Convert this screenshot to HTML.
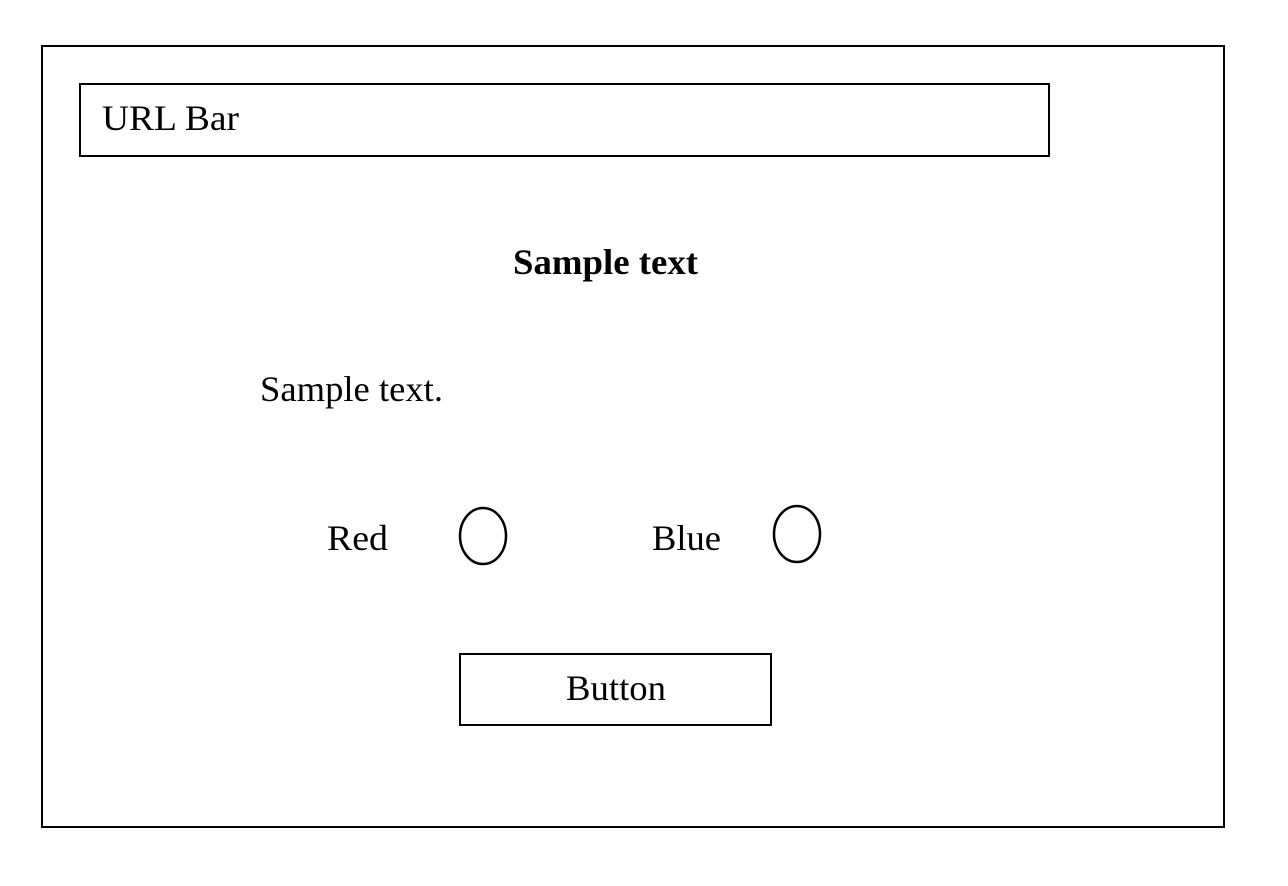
<!DOCTYPE html>
<html><head><style>
html,body{margin:0;padding:0;background:#fff;width:1288px;height:886px;overflow:hidden}
</style></head><body>
<svg width="1288" height="886" xmlns="http://www.w3.org/2000/svg" font-family="Liberation Serif, serif">
<rect x="42" y="46" width="1182" height="781" fill="none" stroke="#000" stroke-width="2"/>
<rect x="80" y="84" width="969" height="72" fill="none" stroke="#000" stroke-width="2"/>
<text x="102" y="130" font-size="36" textLength="137" lengthAdjust="spacingAndGlyphs">URL Bar</text>
<text x="513" y="274" font-size="36" font-weight="bold" textLength="185" lengthAdjust="spacingAndGlyphs">Sample text</text>
<text x="260" y="401" font-size="36" textLength="183" lengthAdjust="spacingAndGlyphs">Sample text.</text>
<text x="327" y="550" font-size="36" textLength="61" lengthAdjust="spacingAndGlyphs">Red</text>
<ellipse cx="483" cy="536" rx="23" ry="28" fill="none" stroke="#000" stroke-width="2.5"/>
<text x="652" y="550" font-size="36" textLength="69" lengthAdjust="spacingAndGlyphs">Blue</text>
<ellipse cx="797" cy="534" rx="23" ry="28" fill="none" stroke="#000" stroke-width="2.5"/>
<rect x="460" y="654" width="311" height="71" fill="none" stroke="#000" stroke-width="2"/>
<text x="566" y="700" font-size="36" textLength="100" lengthAdjust="spacingAndGlyphs">Button</text>
</svg>
</body></html>
